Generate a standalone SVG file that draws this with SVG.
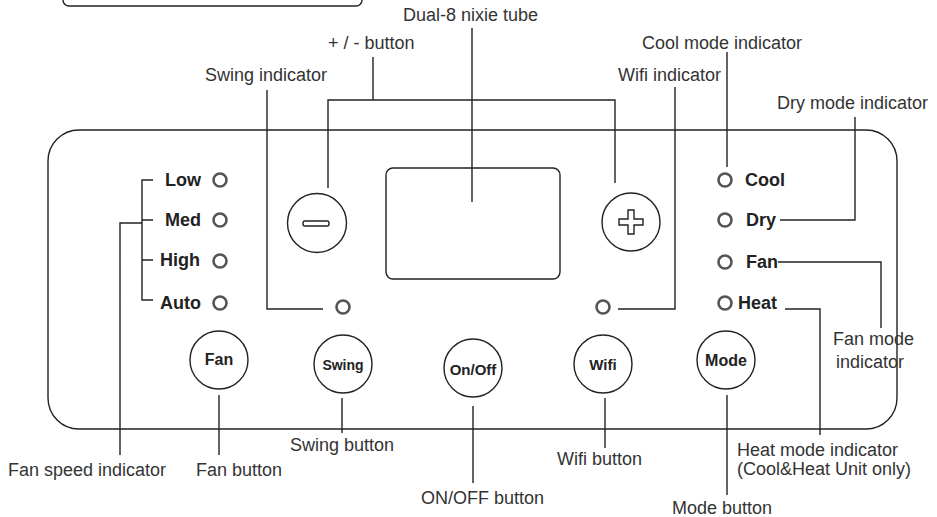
<svg xmlns="http://www.w3.org/2000/svg" width="937" height="517" viewBox="0 0 937 517">
<style>
.lbl{font-family:"Liberation Sans",Arial,sans-serif;font-size:18px;fill:#333}
.b{font-family:"Liberation Sans",Arial,sans-serif;font-weight:bold;fill:#222}
.pl{font-size:18px}
.outline{fill:none;stroke:#222;stroke-width:1.4}
.btn{fill:#fff;stroke:#222;stroke-width:1.4}
.led{fill:#fff;stroke:#555;stroke-width:2.6}
.conn{fill:none;stroke:#222;stroke-width:1.4}
</style>
<rect width="937" height="517" fill="#fff"/>
<g id="top-frame"><rect x="63" y="-30" width="299" height="36" rx="6" class="outline" stroke-width="2.2"/></g>
<g id="panel"><rect x="48" y="130" width="849" height="299" rx="31" class="outline"/></g>

<g id="connectors">
<path class="conn" d="M472 28V202"/>
<path class="conn" d="M373 57V100M328 188V100H615V183"/>
<path class="conn" d="M267 90V309H323"/>
<path class="conn" d="M675 87V309H618"/>
<path class="conn" d="M727 52V167"/>
<path class="conn" d="M855 117V220H780"/>
<path class="conn" d="M778 262H881V328"/>
<path class="conn" d="M785 309H820V435"/>
<path class="conn" d="M153 180H142V300H153M142 220H153M142 260H153M142 223H120V455"/>
<path class="conn" d="M219 395V455"/>
<path class="conn" d="M342 398V433"/>
<path class="conn" d="M473 406V483"/>
<path class="conn" d="M605 398V448"/>
<path class="conn" d="M727 395V495"/>
</g>

<g id="nixie-tube"><rect x="386" y="168" width="174" height="111" rx="7" class="outline"/></g>
<g id="minus-button"><circle cx="317" cy="223" r="29.5" class="btn"/><rect x="303" y="221" width="26" height="5" rx="2" class="outline" stroke-width="1.2"/></g>
<g id="plus-button"><circle cx="631" cy="222" r="29" class="btn"/><path class="outline" stroke-width="1.2" d="M628 210h6v9h9v6h-9v9h-6v-9h-9v-6h9z"/></g>

<g id="fan-speed">
<text class="b pl" x="165" y="186">Low</text><circle class="led" cx="220" cy="180" r="6.5"/>
<text class="b pl" x="165" y="226">Med</text><circle class="led" cx="220" cy="220" r="6.5"/>
<text class="b pl" x="160" y="266">High</text><circle class="led" cx="220" cy="261" r="6.5"/>
<text class="b pl" x="160" y="309">Auto</text><circle class="led" cx="220" cy="303" r="6.5"/>
</g>
<g id="mode-leds">
<circle class="led" cx="725" cy="180" r="6.5"/><text class="b pl" x="745" y="186">Cool</text>
<circle class="led" cx="725" cy="220" r="6.5"/><text class="b pl" x="746" y="226">Dry</text>
<circle class="led" cx="725" cy="262" r="6.5"/><text class="b pl" x="746" y="268">Fan</text>
<circle class="led" cx="725" cy="303" r="6.5"/><text class="b pl" x="738" y="309">Heat</text>
</g>
<g id="swing-led"><circle class="led" cx="343" cy="307" r="6.5"/></g>
<g id="wifi-led"><circle class="led" cx="603" cy="307" r="6.5"/></g>

<g id="fan-button"><circle cx="219" cy="360" r="29" class="btn"/><text class="b" font-size="16" x="219" y="365" text-anchor="middle">Fan</text></g>
<g id="swing-button"><circle cx="343" cy="364" r="29" class="btn"/><text class="b" font-size="14" x="343" y="370" text-anchor="middle">Swing</text></g>
<g id="onoff-button"><circle cx="473" cy="368" r="29" class="btn"/><text class="b" font-size="15" x="473" y="375" text-anchor="middle">On/Off</text></g>
<g id="wifi-button"><circle cx="603" cy="364" r="29" class="btn"/><text class="b" font-size="15" x="603" y="370" text-anchor="middle">Wifi</text></g>
<g id="mode-button"><circle cx="726" cy="360" r="29" class="btn"/><text class="b" font-size="16" x="726" y="366" text-anchor="middle">Mode</text></g>

<g id="labels">
<text class="lbl" x="403" y="21">Dual-8 nixie tube</text>
<text class="lbl" x="328" y="49">+ / - button</text>
<text class="lbl" x="205" y="81">Swing indicator</text>
<text class="lbl" x="618" y="81">Wifi indicator</text>
<text class="lbl" x="642" y="49">Cool mode indicator</text>
<text class="lbl" x="777" y="109">Dry mode indicator</text>
<text class="lbl" x="833" y="345">Fan mode</text>
<text class="lbl" x="836" y="368">indicator</text>
<text class="lbl" x="737" y="456" font-size="17.5">Heat mode indicator</text>
<text class="lbl" x="737" y="475" font-size="17.5">(Cool&amp;Heat Unit only)</text>
<text class="lbl" x="8" y="476">Fan speed indicator</text>
<text class="lbl" x="196" y="476">Fan button</text>
<text class="lbl" x="290" y="451">Swing button</text>
<text class="lbl" x="421" y="504">ON/OFF button</text>
<text class="lbl" x="557" y="465">Wifi button</text>
<text class="lbl" x="672" y="514">Mode button</text>
</g>
</svg>
